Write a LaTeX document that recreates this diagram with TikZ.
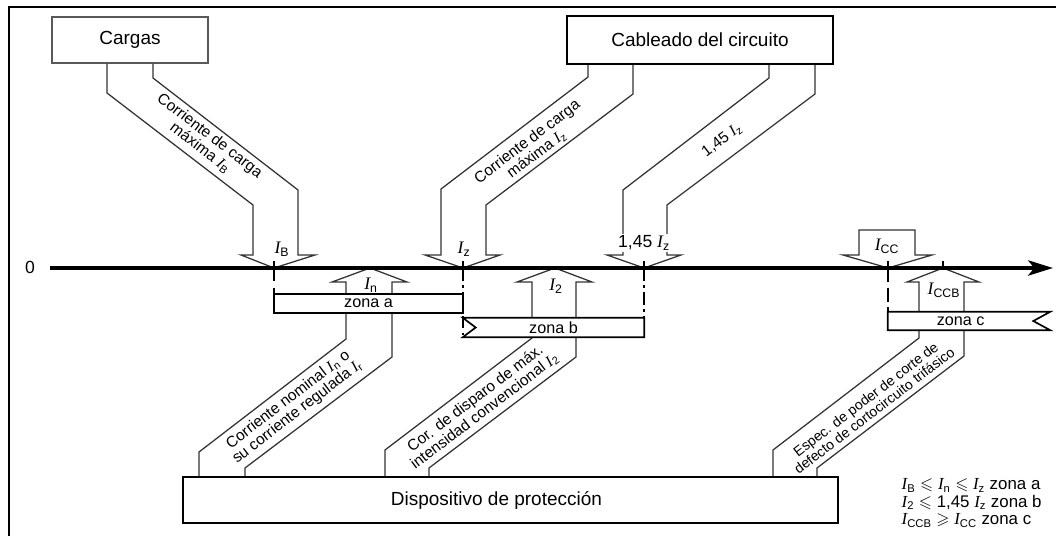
\documentclass[tikz,border=0pt]{standalone}
\usepackage{amssymb}
\usepackage{fontspec}
\setmainfont{Liberation Sans}
\setsansfont{Liberation Sans}
\newfontfamily\tnr{Liberation Serif}
\usetikzlibrary{arrows.meta,calc,positioning}
\newcommand{\Iv}[1]{{\tnr\itshape I}\textsubscript{#1}}

\begin{document}
\begin{tikzpicture}[x=0.025cm,y=-0.025cm,
box/.style={draw,line width=1.4pt,fill=white,font=\fontsize{13.5}{15}\selectfont},
band/.style={draw=black!80,line width=0.9pt,line join=miter},
slant/.style={font=\fontsize{11}{11}\selectfont,align=center,inner sep=0pt},
zona/.style={fill=white,font=\fontsize{11.5}{12}\selectfont,inner sep=0pt},
lbl/.style={font=\fontsize{12.5}{14}\selectfont,inner sep=1pt},
guide/.style={line width=1.5pt},
]
\useasboundingbox (0,0) rectangle (1056,536);

% marco
\draw[line width=1.4pt] (9,536) -- (9,7) -- (1056,7);

% cajas
\node[box,draw=black!65,line width=0.9pt,minimum width=3.9cm,minimum height=1.15cm] (cargas) at (130,40) {Cargas};
\node[box,line width=1.6pt,minimum width=6.65cm,minimum height=1.2cm] (cableado) at (700,40) {Cableado del circuito};
\node[box,minimum width=16.375cm,minimum height=1.15cm] (dispositivo) at (510.5,500) {Dispositivo de protección\hspace*{20pt}};

% puntos del eje
\coordinate (origen) at (50,268);
\coordinate (fin) at (1053,268);
\coordinate (iB) at (274,268);
\coordinate (iN) at (370,268);
\coordinate (iZ) at (463,268);
\coordinate (i2) at (555,268);
\coordinate (iZ145) at (644,268);
\coordinate (iCC) at (888,268);
\coordinate (iCCB) at (943,268);

% flechas de arriba
\draw[band] (107,0 |- cargas.south) -- (107,93) -- (253,205) -- (253,255) -- (241,255) -- (iB)
  -- (315,255) -- (298,255) -- (298,190) -- (153,78) -- (153,0 |- cargas.south);
\draw[band] (588,0 |- cableado.south) -- (588,77) -- (441,189) -- (441,255) -- (425,255) -- (iZ)
  -- (500,255) -- (486,255) -- (486,205) -- (633,94) -- (633,0 |- cableado.south);
\draw[band] (769,0 |- cableado.south) -- (769,78) -- (623,190) -- (623,255) -- (607,255) -- (iZ145)
  -- (681,255) -- (667,255) -- (667,205) -- (815,94) -- (815,0 |- cableado.south);
\draw[band] (859,230) -- (859,255) -- (843,255) -- (iCC) -- (932,255) -- (915,255) -- (915,230) -- cycle;

% flechas de abajo
\draw[band] (199,0 |- dispositivo.north) -- (199,452) -- (346,339) -- (346,282) -- (332,282) -- (iN)
  -- (407,282) -- (392,282) -- (392,357) -- (245,468) -- (245,0 |- dispositivo.north);
\draw[band] (385,0 |- dispositivo.north) -- (385,450) -- (532,338) -- (532,282) -- (517,282) -- (i2)
  -- (592,282) -- (576,282) -- (576,357) -- (429,468) -- (429,0 |- dispositivo.north);
\draw[band] (773,0 |- dispositivo.north) -- (773,450) -- (919,338) -- (919,282) -- (907,282) -- (iCCB)
  -- (979,282) -- (964,282) -- (964,356) -- (817,468) -- (817,0 |- dispositivo.north);

% zonas
\node[zona,draw,line width=1.2pt,minimum width=4.725cm,minimum height=0.475cm] (zonaA) at (368.5,303.5) {zona a};
\node[zona,minimum width=4.525cm,minimum height=0.475cm] (zonaB) at (553.5,327.5) {zona b};
\draw[line width=1.2pt] (zonaB.north west) -- (zonaB.north east) -- (zonaB.south east) -- (zonaB.south west)
  -- ($(zonaB.west)+(13,0)$) -- cycle;
\node[zona,minimum width=4.05cm,minimum height=0.45cm] (zonaC) at (969,321) {zona c\hspace*{12pt}};
\draw[line width=1.2pt] (zonaC.north east) -- (zonaC.north west) -- (zonaC.south west) -- (zonaC.south east)
  -- ($(zonaC.east)+(-17,0)$) -- cycle;

% lineas de referencia
\draw[guide,dash pattern=on 9pt off 5pt] (iB) -- (iB |- zonaA.north);
\draw[guide,dash pattern=on 9pt off 3pt on 2pt off 3pt] (iZ) -- (iZ |- zonaB.south);
\draw[guide,dash pattern=on 9pt off 3pt on 2pt off 3pt] (iZ145) -- (iZ145 |- zonaB.north);
\draw[guide,dash pattern=on 10pt off 4pt] (iCC) -- (iCC |- zonaC.north);
\foreach \p in {iB,iZ,iZ145,iCC,iCCB}
  \draw[guide] (\p) -- ++(0,-7);

% eje
\node[lbl] (cero) at (30,267) {0};
\draw[line width=2.8pt,-{Stealth[length=6.2mm,width=3.8mm,inset=1.5mm]}] (origen) -- (fin);

% rotulos del eje
\node[lbl] (lB) at (282,249) {\Iv{B}};
\node[lbl] (lZ) at (464,249) {\Iv{z}};
\node[lbl,fill=white] (l145) at (644,243) {1,45 \Iv{z}};
\node[lbl] (lCC) at (887,246) {\Iv{CC}};
\node[lbl] (lN) at (371,285) {\Iv{n}};
\node[lbl] (l2) at (556,286) {\Iv{2}};
\node[lbl] (lCCB) at (944,290) {\Iv{CCB}};

% textos inclinados
\node[slant,rotate=-37.5] (tB) at (205,142) {Corriente de carga\\máxima \Iv{B}};
\node[slant,rotate=37.2] (tZ) at (532,148) {Corriente de carga\\máxima \Iv{z}};
\node[slant,rotate=37.2] (tZ145) at (722,140) {1,45 \Iv{z}};
\node[slant,rotate=37.5] (tN) at (293,406) {Corriente nominal \Iv{n} o\\su corriente regulada \Iv{r}};
\node[slant,rotate=37.3] (t2) at (480,405) {Cor. de disparo de máx.\\intensidad convencional \Iv{2}};
\node[slant,rotate=37.5,font=\fontsize{10}{10}\selectfont] (tCCB) at (870,405) {Espec. de poder de corte de\\defecto de cortocircuito trifásico};

% condiciones
\node[lbl,anchor=west,align=left,font=\fontsize{12}{12.5}\selectfont] (reglas) at (900,503)
  {\Iv{B} $\leqslant$ \Iv{n} $\leqslant$ \Iv{z} zona a\\
   \Iv{2} $\leqslant$ 1,45 \Iv{z} zona b\\
   \Iv{CCB} $\geqslant$ \Iv{CC} zona c};
\end{tikzpicture}
\end{document}
